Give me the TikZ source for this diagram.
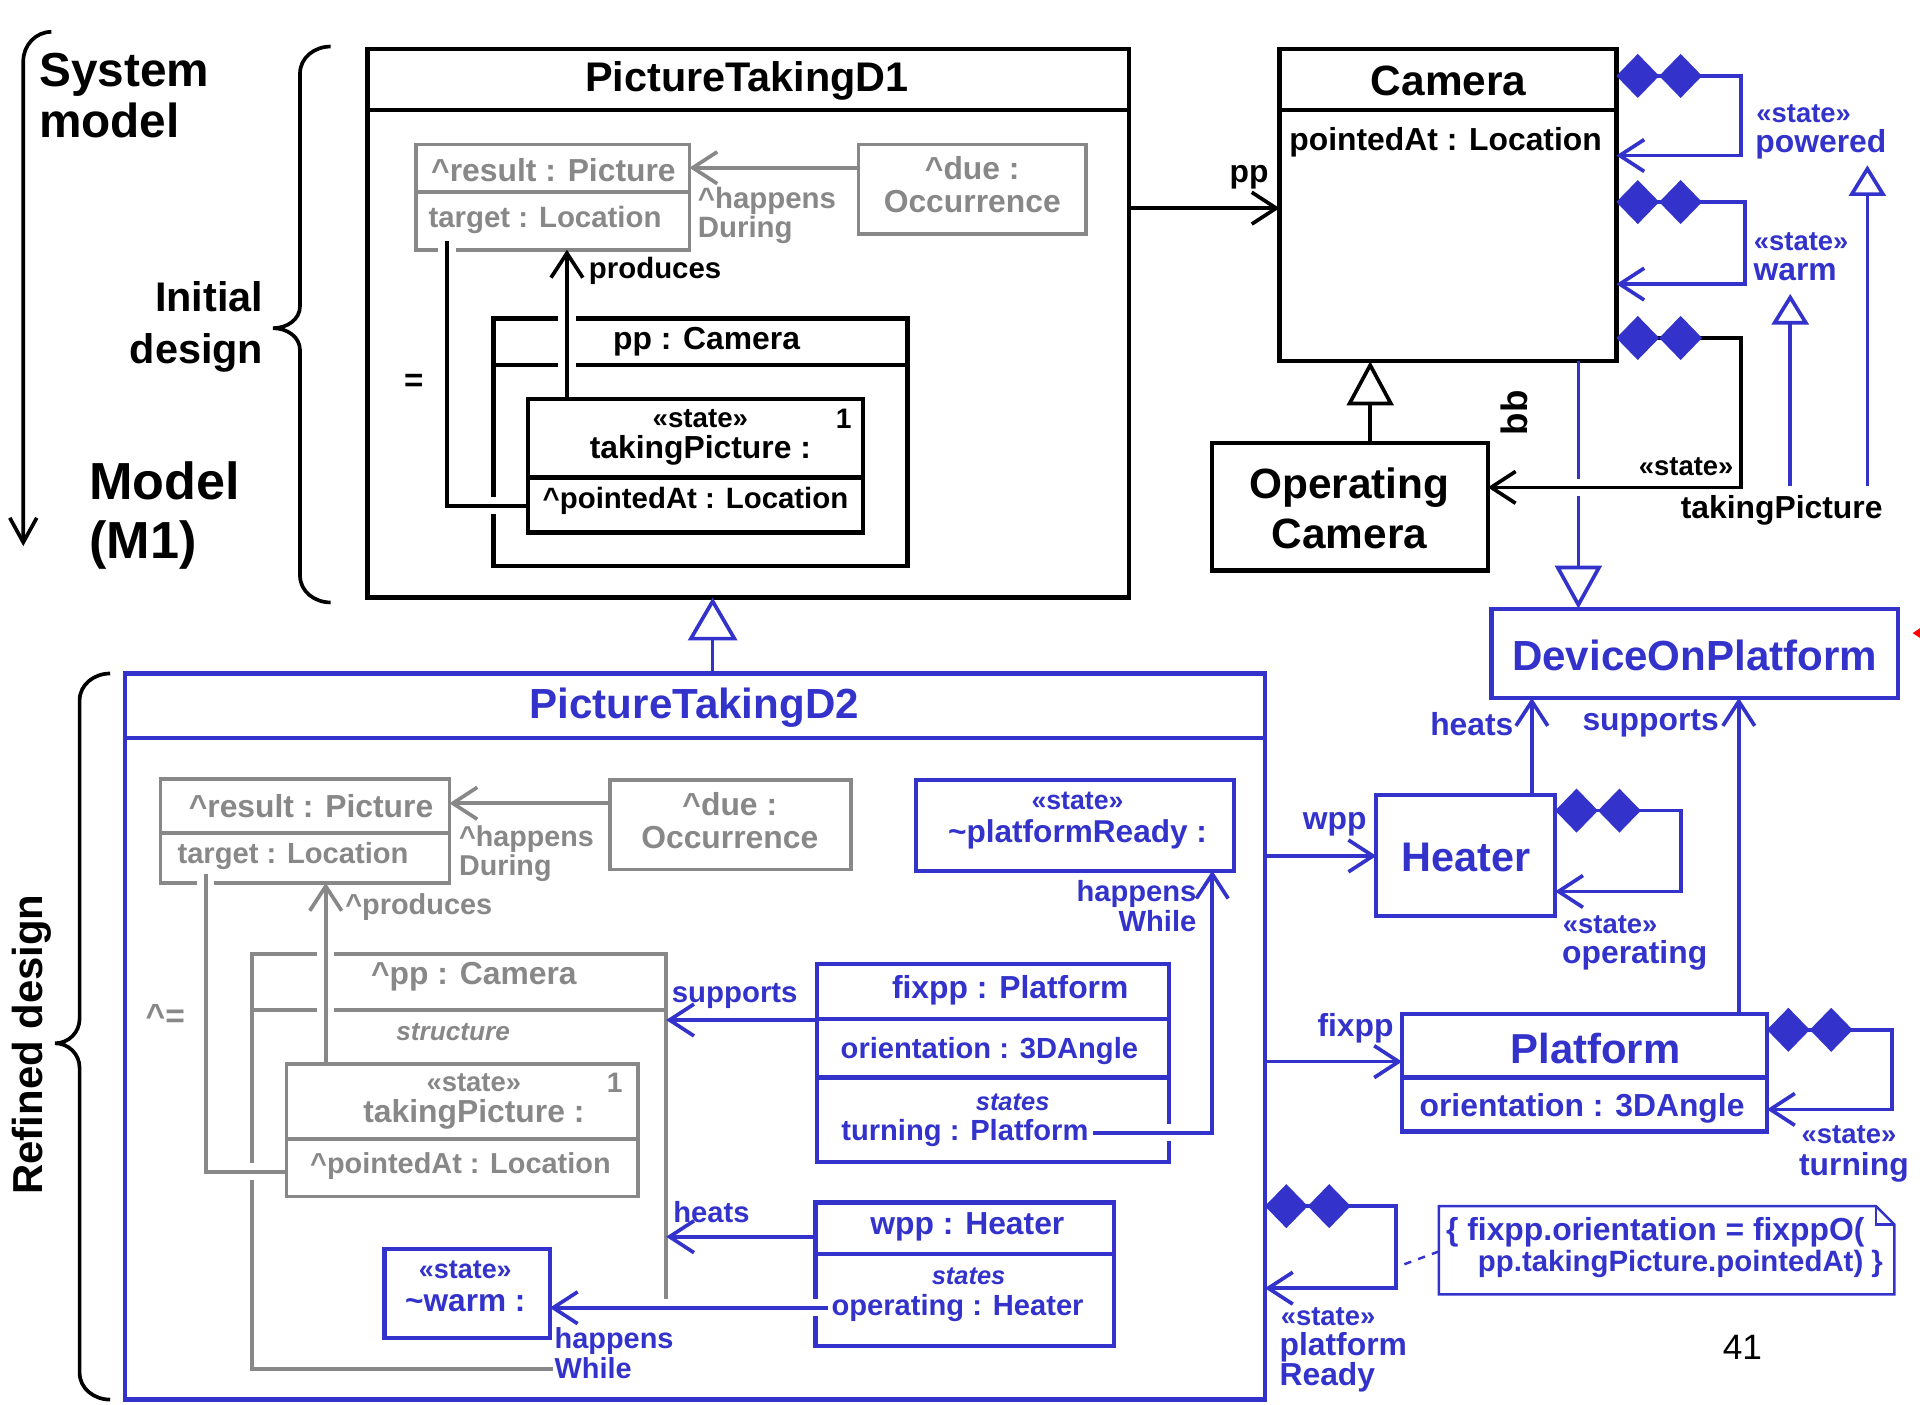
\documentclass[tikz,border=0pt]{standalone}
\usepackage{fontspec}
\setmainfont{Liberation Sans}
\usetikzlibrary{arrows.meta,fit,calc}
\definecolor{ublue}{RGB}{51,51,204}
\definecolor{ugray}{RGB}{136,136,136}
\begin{document}
\begin{tikzpicture}[x=0.5pt,y=-0.5pt,
  every node/.style={inner sep=0pt,outer sep=0pt},
  >={Straight Barb[length=10pt,width=13pt]},
  ft/.style={font={\bfseries\fontsize{#1}{#1}\selectfont}},
  itf/.style={font={\bfseries\itshape\fontsize{#1}{#1}\selectfont}},
  gt/.style={text=ugray},
  bt/.style={text=ublue},
  kbox/.style={draw=black,line width=1.8pt},
  gbox/.style={draw=ugray,line width=1.5pt},
  bbox/.style={draw=ublue,line width=1.7pt},
  kline/.style={draw=black,line width=1.5pt},
  gline/.style={draw=ugray,line width=1.5pt},
  bline/.style={draw=ublue,line width=1.5pt},
  halo/.style={preaction={draw=white,line width=7pt,-,shorten <=3pt,shorten >=3pt}},
  halostart/.style={preaction={draw=white,line width=7pt,-,shorten >=3pt}},
  bloop/.style={bline,{Diamond[length=17.5pt,width=18pt]Diamond[length=17.5pt,width=18pt]}->},
  kgen/.style={kline,-{Triangle[open,fill=white,length=18pt,width=19pt]}},
  bgen/.style={bline,-{Triangle[open,fill=white,length=17.5pt,width=20pt]}},
  bgens/.style={bline,-{Triangle[open,fill=white,length=12.5pt,width=15pt]}},
]
\useasboundingbox[fill=white] (0,0) rectangle (1568,1147);

% ---------- left-hand labels and braces ----------
\node[anchor=west,align=left,font={\bfseries\fontsize{19.5}{20.5}\selectfont}] (sysm) at (32,78) {System\\model};
\coordinate (mtop) at (42,26);
\coordinate (mbot) at (19,446);
\draw[kline,-{Straight Barb[length=10pt,width=11pt]}] (mtop) to[out=180,in=90] (19,50) -- (mbot);
\node[anchor=east,align=right,font={\bfseries\fontsize{16.9}{21.5}\selectfont}] (initd) at (215,267) {Initial\\design};
\node[anchor=west,align=left,font={\bfseries\fontsize{21.3}{24}\selectfont}] (mone) at (73,421) {Model\\(M1)};
\draw[kline] (270,38) to[out=180,in=90] (245,60) -- (245,250) to[out=-90,in=0] (223,268)
  to[out=0,in=90] (245,286) -- (245,470) to[out=-90,in=180] (270,492);
\draw[kline] (90,550) to[out=180,in=90] (65,572) -- (65,832) to[out=-90,in=0] (45,852)
  to[out=0,in=90] (65,872) -- (65,1121) to[out=-90,in=180] (90,1143);
\node[rotate=90,ft=17.1] (refd) at (26,853) {Refined design};

% ---------- PictureTakingD1 ----------
\node[kbox,fit={(300,40)(922,488)}] (d1) {};
\draw[kbox] (d1.west |- 0,90) -- (d1.east |- 0,90);
\node[ft=16.9] at (610,66) {PictureTakingD1};

\node[gbox,fit={(340,118)(563,204)}] (res1) {};
\draw[gbox] (res1.west |- 0,157) -- (res1.east |- 0,157);
\node[gt,ft=13] at (452,139) {\textasciicircum result : Picture};
\node[gt,ft=12,anchor=west] at (350,180) {target : Location};

\node[gbox,fit={(701,118)(887,191)}] (due1) {};
\node[gt,align=center,font={\bfseries\fontsize{13}{13.5}\selectfont}] at (794,151) {\textasciicircum due :\\Occurrence};
\draw[gline,->] (due1.west |- 0,137) -- (res1.east |- 0,137);
\node[gt,align=left,anchor=west,font={\bfseries\fontsize{12}{12}\selectfont}] at (570,176) {\textasciicircum happens\\During};

\node[kbox,fit={(403,260)(741,462)}] (pp1) {};
\draw[kbox] (pp1.west |- 0,298) -- (pp1.east |- 0,298);
\node[ft=13] at (577,279) {pp : Camera};

\node[kbox,fit={(431,326)(705,435)}] (tp1) {};
\draw[kbox] (tp1.west |- 0,390) -- (tp1.east |- 0,390);
\node[ft=11.3] at (572,342) {«state»};
\node[ft=11.5] at (689,342) {1};
\node[ft=13] at (572,368) {takingPicture :};
\node[ft=12] at (568,409) {\textasciicircum pointedAt : Location};

\node[ft=13.5] at (338,313) {=};

\draw[kline,halo,->] (tp1.north -| 463,0) -- (res1.south -| 463,0);
\node[anchor=west,ft=12] at (481,221) {produces};
\coordinate (tg1) at (365,197);
\draw[kline,halostart] (tg1) -- (365,413) -- (tp1.west |- 0,413);

% ---------- Camera and Operating Camera ----------
\node[kbox,fit={(1045,40)(1320,295)}] (cam) {};
\draw[kbox] (cam.west |- 0,90) -- (cam.east |- 0,90);
\node[ft=17.3] at (1183,66) {Camera};
\node[anchor=west,ft=13] at (1053,116) {pointedAt : Location};
\draw[kline,->] (d1.east |- 0,170) -- (cam.west |- 0,170);
\node[ft=13] at (1020,145) {pp};

\node[kbox,fit={(990,362)(1215,466)}] (opc) {};
\node[align=center,font={\bfseries\fontsize{17.3}{20.5}\selectfont}] at (1102,415) {Operating\\Camera};
\draw[kgen] (opc.north -| 1119,0) -- (cam.south -| 1119,0);
\node[rotate=90,ft=15] at (1237,337) {bb};

\node[bbox,fit={(1218,497)(1550,570)}] (dev) {};
\node[bt,ft=17.2] at (1384,535) {DeviceOnPlatform};
\fill[red] (1562,517) -- (1574,509) -- (1574,525) -- cycle;
\draw[bline,-{Triangle[open,fill=white,length=17.5pt,width=19pt]}] (cam.south -| 1289,0) -- (dev.north -| 1289,0);

\draw[bloop] (cam.east |- 0,62) -- (1422,62) -- (1422,127) -- (cam.east |- 0,127);
\draw[bloop] (cam.east |- 0,165) -- (1425,165) -- (1425,232) -- (cam.east |- 0,232);
\draw[kline,halo,{Diamond[length=17.5pt,width=18pt,color=ublue]Diamond[length=17.5pt,width=18pt,color=ublue]}->]
  (cam.east |- 0,276) -- (1422,276) -- (1422,398) -- (opc.east |- 0,398);
\node[bt,ft=11.2] at (1473,93) {«state»};
\node[bt,ft=13] (powl) at (1487,118) {powered};
\node[bt,ft=11.2] at (1471,197) {«state»};
\node[bt,ft=13] (warml) at (1466,222) {warm};
\node[ft=11.2] at (1377,381) {«state»};
\node[ft=13] (tpl) at (1455,417) {takingPicture};
\coordinate (tplA) at (1462,397);
\coordinate (tplB) at (1525,397);
\coordinate (warmB) at (1462,240);
\coordinate (powB) at (1525,135);
\draw[bgens] (tplA) -- (warmB);
\draw[bgens] (tplB) -- (powB);

% ---------- Heater and Platform ----------
\node[bbox,fit={(1124,649)(1270,748)}] (heat) {};
\node[bt,ft=16.9] at (1197,700) {Heater};
\draw[bline,->] (heat.north -| 1251,0) -- (dev.south -| 1251,0);
\node[bt,ft=13] at (1202,591) {heats};
\node[bbox,fit={(1145,828)(1443,924)}] (plat) {};
\draw[bbox] (plat.west |- 0,880) -- (plat.east |- 0,880);
\node[bt,ft=17.1] at (1303,856) {Platform};
\node[bt,ft=13] at (1292,905) {orientation : 3DAngle};
\draw[bline,->] (plat.north -| 1420,0) -- (dev.south -| 1420,0);
\node[bt,ft=13] at (1348,591) {supports};
\draw[bloop] (heat.east |- 0,662) -- (1373,662) -- (1373,728) -- (heat.east |- 0,728);
\node[bt,ft=11.2] at (1315,755) {«state»};
\node[bt,ft=13] at (1335,780) {operating};
\draw[bloop] (plat.east |- 0,841) -- (1545,841) -- (1545,906) -- (plat.east |- 0,906);
\node[bt,ft=11.2] at (1510,927) {«state»};
\node[bt,ft=13] at (1514,953) {turning};

% ---------- PictureTakingD2 ----------
\node[draw=ublue,line width=1.8pt,fit={(102,550)(1033,1143)}] (d2) {};
\draw[bbox] (d2.west |- 0,603) -- (d2.east |- 0,603);
\node[bt,ft=17.2] at (567,578) {PictureTakingD2};
\draw[bgen] (d2.north -| 582,0) -- (d1.south -| 582,0);

\draw[bline,->] (d2.east |- 0,699) -- (heat.west |- 0,699);
\node[bt,ft=13] at (1090,673) {wpp};
\draw[bline,->] (d2.east |- 0,867) -- (plat.west |- 0,867);
\node[bt,ft=13] at (1107,840) {fixpp};
\draw[bloop] (d2.east |- 0,985) -- (1140,985) -- (1140,1052) -- (d2.east |- 0,1052);
\node[bt,ft=11.2,anchor=west] at (1046,1075) {«state»};
\node[bt,ft=13,anchor=west] at (1045,1100) {platform};
\node[bt,ft=13,anchor=west] at (1045,1125) {Ready};

\node[fit={(1175,985)(1547,1057)}] (note) {};
\draw[ublue,line width=1pt] (note.north west) -- ($(note.north east)+(-15,0)$) -- ($(note.north east)+(0,15)$)
  -- (note.south east) -- (note.south west) -- cycle;
\draw[ublue,line width=1pt] ($(note.north east)+(-15,0)$) -- ($(note.north east)+(-15,15)$) -- ($(note.north east)+(0,15)$);
\node[bt,ft=13,anchor=west] at (1181,1006) {\{ fixpp.orientation = fixppO(};
\node[bt,ft=12,anchor=west] at (1207,1032) {pp.takingPicture.pointedAt) \}};
\coordinate (prl) at (1140,1035);
\draw[ublue,line width=1pt,dashed] (note.west |- 0,1022) -- (prl);
\node[font={\fontsize{14.4}{15}\selectfont}] at (1423,1100) {41};

% gray part inherited from the initial design
\node[gbox,fit={(131,636)(367,721)}] (res2) {};
\draw[gbox] (res2.west |- 0,680) -- (res2.east |- 0,680);
\node[gt,ft=13] at (254,658) {\textasciicircum result : Picture};
\node[gt,ft=11.9,anchor=west] at (145,699) {target : Location};
\node[gbox,fit={(498,637)(695,710)}] (due2) {};
\node[gt,align=center,font={\bfseries\fontsize{13}{13.5}\selectfont}] at (596,670) {\textasciicircum due :\\Occurrence};
\draw[gline,->] (due2.west |- 0,656) -- (res2.east |- 0,656);
\node[gt,align=left,anchor=west,font={\bfseries\fontsize{11.7}{12}\selectfont}] at (375,697) {\textasciicircum happens\\During};

\node[fit={(206,779)(544,1118)}] (pp2) {};
\draw[gbox] (pp2.east |- 0,1062) -- (pp2.north east) -- (pp2.north west) -- (pp2.south west) -- (pp2.south -| 452,0);
\draw[gbox] (pp2.west |- 0,825) -- (pp2.east |- 0,825);
\node[gt,ft=13] at (387,798) {\textasciicircum pp : Camera};
\node[gt,itf=10.7] at (370,843) {structure};
\node[gt,ft=13.7] at (135,830) {\textasciicircum=};

\node[gbox,fit={(234,869)(521,977)}] (tp2) {};
\draw[gbox] (tp2.west |- 0,930) -- (tp2.east |- 0,930);
\node[gt,ft=11.2] at (387,884) {«state»};
\node[gt,ft=11.5] at (502,884) {1};
\node[gt,ft=13] at (387,910) {takingPicture :};
\node[gt,ft=11.8] at (376,952) {\textasciicircum pointedAt : Location};

\draw[gline,halo,->] (tp2.north -| 266,0) -- (res2.south -| 266,0);
\node[gt,ft=11.8,anchor=west] at (282,741) {\textasciicircum produces};
\coordinate (tg2) at (168,714);
\draw[gline,halostart] (tg2) -- (168,957) -- (tp2.west |- 0,957);

% blue part added by the refinement
\node[bbox,fit={(748,637)(1008,711)}] (prdy) {};
\node[bt,ft=10.9] at (880,654) {«state»};
\node[bt,ft=12.9] at (880,681) {\textasciitilde platformReady :};

\node[bbox,fit={(667,787)(955,949)}] (fxp) {};
\draw[bbox] (fxp.west |- 0,832) -- (fxp.east |- 0,832);
\draw[bbox] (fxp.west |- 0,880) -- (fxp.east |- 0,880);
\node[bt,ft=13] at (825,809) {fixpp : Platform};
\node[bt,ft=11.9] at (808,858) {orientation : 3DAngle};
\node[bt,itf=10.4] at (827,900) {states};
\node[bt,ft=11.9] at (788,925) {turning : Platform};
\coordinate (trn) at (893,925);
\draw[bline,halostart,->] (trn) -- (990,925) -- (prdy.south -| 990,0);
\node[bt,align=right,anchor=east,font={\bfseries\fontsize{11.9}{12}\selectfont}] at (977,740) {happens\\While};

\draw[bline,->] (fxp.west |- 0,833) -- (pp2.east |- 0,833);
\node[bt,ft=12] at (600,813) {supports};

\node[bbox,fit={(666,982)(910,1099)}] (wpp) {};
\draw[bbox] (wpp.west |- 0,1024) -- (wpp.east |- 0,1024);
\node[bt,ft=13] at (790,1002) {wpp : Heater};
\node[bt,itf=10.4] at (791,1042) {states};
\node[bt,ft=11.9] at (782,1068) {operating : Heater};
\draw[bline,->] (wpp.west |- 0,1010) -- (pp2.east |- 0,1010);
\node[bt,ft=11.9] at (581,990) {heats};

\node[bbox,fit={(314,1020)(449,1093)}] (warm) {};
\node[bt,ft=11] at (380,1037) {«state»};
\node[bt,ft=12.9] at (380,1064) {\textasciitilde warm :};
\coordinate (opr) at (676,1068);
\draw[bline,halostart,->] (opr) -- (warm.east |- 0,1068);
\node[bt,align=left,anchor=west,font={\bfseries\fontsize{11.8}{12}\selectfont}] at (453,1105) {happens\\While};
\end{tikzpicture}
\end{document}
